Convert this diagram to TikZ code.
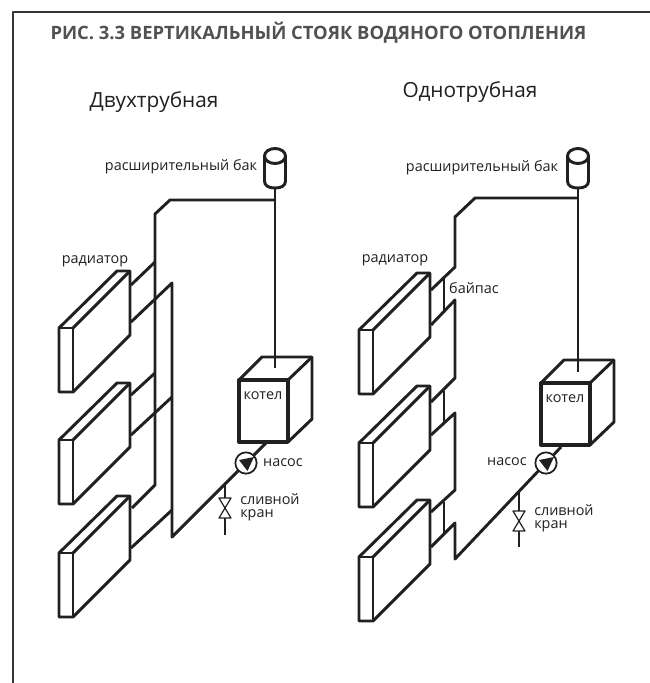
\documentclass[tikz,border=0pt]{standalone}
\usepackage{fontspec}
\setmainfont{Open Sans}
\usepackage{xcolor}
\usetikzlibrary{calc}
\definecolor{inkdark}{RGB}{35,31,32}
\definecolor{titlegray}{RGB}{80,81,83}
\tikzset{
  pipe/.style={line width=2.2pt,draw=inkdark},
  heavy/.style={line width=2.5pt,draw=inkdark},
  fine/.style={line width=0.9pt,draw=inkdark,fill=white},
  lab/.style={font=\fontsize{10.8}{10}\selectfont,text=inkdark,inner sep=0pt},
  pumpnode/.style={circle,draw=inkdark,line width=1.3pt,fill=white,minimum size=16pt,inner sep=0pt}
}
\begin{document}
\begin{tikzpicture}[x=0.75pt,y=-0.75pt,line join=round]
  \useasboundingbox (0,0) rectangle (650,683);
  % frame, open on the right and at the bottom
  \draw[line width=1.6pt,draw=inkdark!90] (13,683) -- (13,12) -- (650,12);
  \node[inner sep=0pt,text=titlegray,font=\fontsize{13.8}{14}\selectfont\bfseries] (title) at (318.5,33) {РИС. 3.3 ВЕРТИКАЛЬНЫЙ СТОЯК ВОДЯНОГО ОТОПЛЕНИЯ};
  \node[lab,font=\fontsize{15.6}{16}\selectfont] (headL) at (154,102) {Двухтрубная};
  \node[lab,font=\fontsize{15.6}{16}\selectfont] (headR) at (470,92) {Однотрубная};
  % radiators, three on each riser
  \foreach \sx/\dy in {0/0,0/112,0/225,300/2,300/115,300/229}{
    \begin{scope}[shift={(\sx,\dy)}]
      \draw[pipe] (59,328) -- (117,271) -- (130,271) -- (130,335) -- (73,392) -- (59,392) -- cycle;
      \draw[pipe] (73,392) -- (73,328) -- (59,328);
      \draw[pipe] (73,328) -- (130,271);
    \end{scope}
  }
  % two-pipe riser
  \draw[pipe] (275,188) -- (275,368);
  \draw[pipe] (275,200) -- (170,200) -- (155,214) -- (155,485) -- (132,508);
  \foreach \a/\b in {262/285,373/395}{\draw[pipe] (155,\a) -- (131,\b);}
  \foreach \a/\b in {397/435,510/548}{\draw[pipe] (172,\a) -- (131,\b);}
  \draw[pipe] (131,322) -- (172,283) -- (172,537) -- (266,443);
  % one-pipe riser with bypasses
  \draw[pipe] (578,188) -- (578,372);
  \draw[pipe] (578,198) -- (475,198) -- (455,217) -- (455,267) -- (431,290);
  \draw[pipe] (431,325) -- (455,300) -- (455,378) -- (431,402);
  \draw[pipe] (431,435) -- (455,413) -- (455,490) -- (431,512);
  \draw[pipe] (431,547) -- (455,523) -- (455,559) -- (561,447);
  \foreach \a/\b in {278/310,391/423,502/534}{\draw[pipe] (444,\a) -- (444,\b);}
  % expansion tanks
  \foreach \sx in {0,303}{
    \begin{scope}[shift={(\sx,0)}]
      \draw[pipe] (275,156) ellipse [x radius=10.5,y radius=7.5];
      \draw[pipe] (264.5,156) -- (264.5,181) .. controls (264.5,186) and (269,188) .. (275,188) .. controls (281,188) and (285.5,186) .. (285.5,181) -- (285.5,156);
    \end{scope}
  }
  % boilers
  \foreach \sx/\dy in {0/0,302/3}{
    \begin{scope}[shift={(\sx,\dy)}]
      \draw[pipe] (239,380) -- (262,357) -- (312,357) -- (312,419) -- (288,442);
      \draw[pipe] (288,380) -- (312,357);
      \draw[heavy] (239,380) rectangle (288,442);
    \end{scope}
  }
  % drain cocks
  \foreach \x/\t/\y/\b in {225/484/508/535,519/491/521/547}{
    \draw[pipe] (\x,\t) -- (\x,\b);
    \draw[fine] ({\x-6},{\y-10}) -- ({\x+6},{\y-10}) -- ({\x-6},{\y+10}) -- ({\x+6},{\y+10}) -- cycle;
  }
  % pumps
  \node[pumpnode] (pumpL) at (246,463) {};
  \node[pumpnode] (pumpR) at (546,463) {};
  \foreach \p in {pumpL,pumpR}{
    \fill[inkdark] ($(\p)+(-7,-3)$) -- ($(\p)+(8,-6)$) -- ($(\p)+(1.5,8)$) -- cycle;
  }
  % labels
  \node[lab] (tankL) at (181,167) {расширительный бак};
  \node[lab] (tankR) at (482,168) {расширительный бак};
  \node[lab] (radL) at (95,261) {радиатор};
  \node[lab] (radR) at (395,260) {радиатор};
  \node[lab] (bypass) at (474,288) {байпас};
  \node[lab] (boilL) at (263,396) {котел};
  \node[lab] (boilR) at (565,399) {котел};
  \node[lab] (pumpnameL) at (283,463) {насос};
  \node[lab] (pumpnameR) at (507,462) {насос};
  \node[lab,align=left,anchor=west] (drainL) at (240,507) {сливной\\кран};
  \node[lab,align=left,anchor=west] (drainR) at (534,518) {сливной\\кран};
\end{tikzpicture}
\end{document}
